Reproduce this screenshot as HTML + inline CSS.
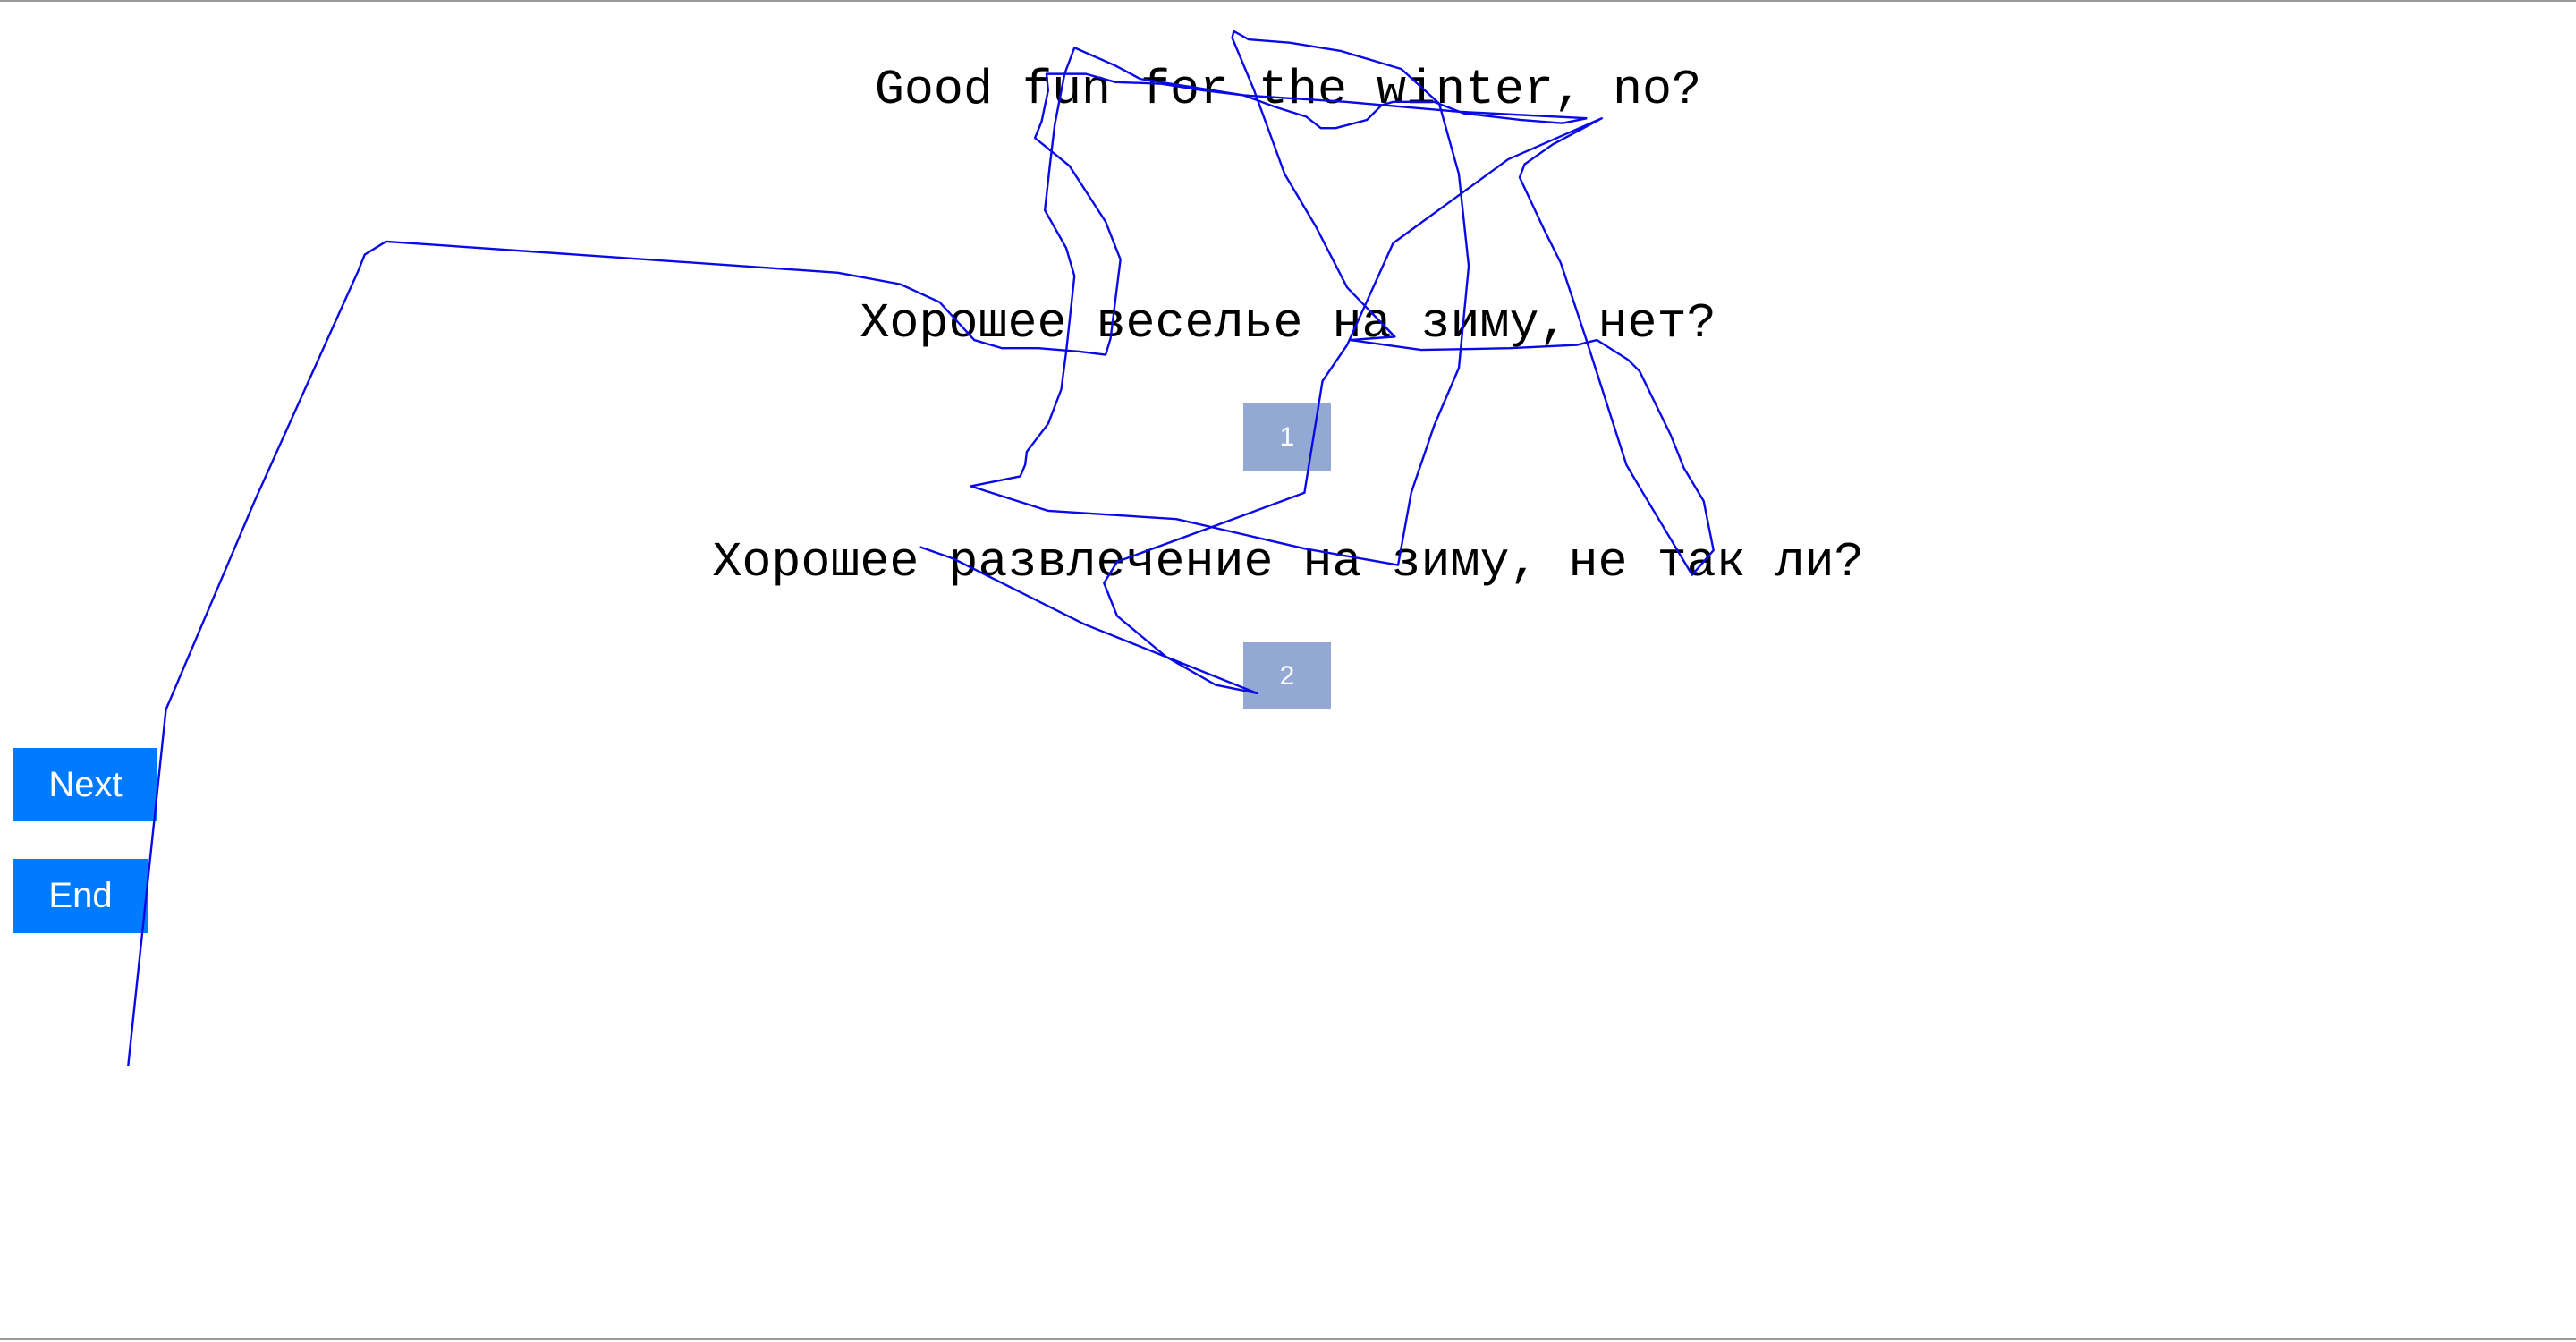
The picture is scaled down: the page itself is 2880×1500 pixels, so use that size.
<!DOCTYPE html>
<html><head><meta charset="utf-8"><style>
html,body{margin:0;padding:0;width:2880px;height:1500px;overflow:hidden;background:#fff;position:relative}
.t{position:absolute;left:0;width:2880px;text-align:center;font-family:"Liberation Mono",monospace;font-size:55px;line-height:60px;color:#000;white-space:pre}
.box{position:absolute;left:1390px;width:98px;background:#94a8d4;color:#fff;font-family:"Liberation Sans",sans-serif;font-size:30px;display:flex;align-items:center;justify-content:center}
.btn{position:absolute;left:15px;background:#007bff;color:#fff;font-family:"Liberation Sans",sans-serif;font-size:40px;display:flex;align-items:center;justify-content:center}
.ln{position:absolute;left:0;width:2880px;height:2px;background:#9a9a9a}
</style></head><body>
<div class="ln" style="top:0"></div>
<div class="ln" style="top:1496px"></div>
<div class="t" style="top:71px">Good fun for the winter, no?</div>
<div class="t" style="top:332px">Хорошее веселье на зиму, нет?</div>
<div class="t" style="top:599px">Хорошее развлечение на зиму, не так ли?</div>
<div class="box" style="top:450px;height:77px">1</div>
<div class="box" style="top:718px;height:75px">2</div>
<div class="btn" style="top:836px;width:161px;height:82px">Next</div>
<div class="btn" style="top:960px;width:150px;height:83px">End</div>
<svg style="position:absolute;left:0;top:0" width="2880" height="1500" viewBox="0 0 1568 817" preserveAspectRatio="none">
<g fill="none" stroke="#0a0ae6" stroke-width="1.3" stroke-linejoin="round">
<polyline points="78,649 101,432 155,305 200,205 218,165 222,155 235,147 510,166 548,173 572,184 593,207 610,212 632,212 657,214 673,216 676,206 682,158 673,135 651,101 630,84 634,74 638,55 637,45 661,45 679,50 707,51 732,55 757,58 776,65 795,71 804,78 813,78 832,73 841,64 848,62 873,62 891,69 926,73 951,75 966,72"/>
<polyline points="694,48 757,58 819,62 888,68 966,72"/>
<polyline points="654,29 648,45 642,76 639,101 636,128 649,151 654,168 649,214 646,237 638,258 625,275 624,283 621,290 591,296 638,311 716,316 738,321 794,334 851,344 859,300 873,259 888,224 894,162 888,106 876,63 853,42 816,31 785,26 760,24 751,19 750,23 763,54 782,106 801,138 820,175 849,205 822,207 865,213 919,212 960,210 972,207 991,219 998,226 1017,265 1025,285 1037,305 1043,335 1030,350 1000,300 990,283 965,205 950,160 940,140 925,108 928,100 945,88 975,72 918,97 848,148 820,210 805,232 794,300 740,320 680,342 672,355 680,375 710,400 740,417 765,422 710,400 660,380 620,360 580,340 560,333"/>
<polyline points="654,29 679,40 694,48"/>
</g></svg>
</body></html>
